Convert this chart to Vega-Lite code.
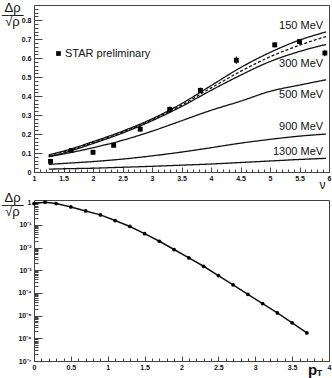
{
  "$schema": "https://vega.github.io/schema/vega-lite/v6.json",
  "padding": {"left": 0, "top": 0, "right": 0, "bottom": 0},
  "background": "white",
  "bounds": "flush",
  "spacing": 28,
  "config": {
    "view": {"stroke": "#444", "strokeWidth": 1},
    "font": "Liberation Sans",
    "axis": {
      "grid": false,
      "domain": false,
      "tickColor": "#444",
      "tickWidth": 1,
      "labelFont": "Liberation Sans",
      "labelFontSize": 7,
      "labelFontWeight": "bold",
      "labelColor": "#111",
      "labelOverlap": false,
      "labelFlush": false,
      "labelBound": false,
      "titleFont": "Liberation Sans",
      "titleColor": "#111",
      "titleFontWeight": "normal"
    }
  },
  "datasets": {
    "curves": [
      {"nu": 1.25, "v": 0.09, "curve": "150 MeV"}, {"nu": 1.5, "v": 0.11, "curve": "150 MeV"}, {"nu": 2, "v": 0.16, "curve": "150 MeV"}, {"nu": 2.5, "v": 0.215, "curve": "150 MeV"}, {"nu": 3, "v": 0.28, "curve": "150 MeV"}, {"nu": 3.5, "v": 0.36, "curve": "150 MeV"}, {"nu": 4, "v": 0.455, "curve": "150 MeV"}, {"nu": 4.5, "v": 0.55, "curve": "150 MeV"}, {"nu": 5, "v": 0.63, "curve": "150 MeV"}, {"nu": 5.5, "v": 0.695, "curve": "150 MeV"}, {"nu": 5.95, "v": 0.738, "curve": "150 MeV"},
      {"nu": 1.25, "v": 0.086, "curve": "intermediate"}, {"nu": 1.5, "v": 0.106, "curve": "intermediate"}, {"nu": 2, "v": 0.155, "curve": "intermediate"}, {"nu": 2.5, "v": 0.21, "curve": "intermediate"}, {"nu": 3, "v": 0.275, "curve": "intermediate"}, {"nu": 3.5, "v": 0.352, "curve": "intermediate"}, {"nu": 4, "v": 0.443, "curve": "intermediate"}, {"nu": 4.5, "v": 0.53, "curve": "intermediate"}, {"nu": 5, "v": 0.607, "curve": "intermediate"}, {"nu": 5.5, "v": 0.668, "curve": "intermediate"}, {"nu": 5.95, "v": 0.714, "curve": "intermediate"},
      {"nu": 1.25, "v": 0.08, "curve": "300 MeV"}, {"nu": 1.5, "v": 0.1, "curve": "300 MeV"}, {"nu": 2, "v": 0.15, "curve": "300 MeV"}, {"nu": 2.5, "v": 0.205, "curve": "300 MeV"}, {"nu": 3, "v": 0.27, "curve": "300 MeV"}, {"nu": 3.5, "v": 0.345, "curve": "300 MeV"}, {"nu": 4, "v": 0.43, "curve": "300 MeV"}, {"nu": 4.5, "v": 0.51, "curve": "300 MeV"}, {"nu": 5, "v": 0.582, "curve": "300 MeV"}, {"nu": 5.5, "v": 0.635, "curve": "300 MeV"}, {"nu": 5.95, "v": 0.672, "curve": "300 MeV"},
      {"nu": 1.25, "v": 0.082, "curve": "500 MeV"}, {"nu": 1.5, "v": 0.095, "curve": "500 MeV"}, {"nu": 2, "v": 0.128, "curve": "500 MeV"}, {"nu": 2.5, "v": 0.167, "curve": "500 MeV"}, {"nu": 3, "v": 0.215, "curve": "500 MeV"}, {"nu": 3.5, "v": 0.27, "curve": "500 MeV"}, {"nu": 4, "v": 0.325, "curve": "500 MeV"}, {"nu": 4.5, "v": 0.373, "curve": "500 MeV"}, {"nu": 5, "v": 0.425, "curve": "500 MeV"}, {"nu": 5.5, "v": 0.458, "curve": "500 MeV"}, {"nu": 5.95, "v": 0.486, "curve": "500 MeV"},
      {"nu": 1.25, "v": 0.04, "curve": "900 MeV"}, {"nu": 1.5, "v": 0.045, "curve": "900 MeV"}, {"nu": 2, "v": 0.055, "curve": "900 MeV"}, {"nu": 2.5, "v": 0.068, "curve": "900 MeV"}, {"nu": 3, "v": 0.085, "curve": "900 MeV"}, {"nu": 3.5, "v": 0.105, "curve": "900 MeV"}, {"nu": 4, "v": 0.128, "curve": "900 MeV"}, {"nu": 4.5, "v": 0.152, "curve": "900 MeV"}, {"nu": 5, "v": 0.172, "curve": "900 MeV"}, {"nu": 5.5, "v": 0.189, "curve": "900 MeV"}, {"nu": 5.95, "v": 0.2, "curve": "900 MeV"},
      {"nu": 1.25, "v": 0.015, "curve": "1300 MeV"}, {"nu": 1.5, "v": 0.017, "curve": "1300 MeV"}, {"nu": 2, "v": 0.02, "curve": "1300 MeV"}, {"nu": 2.5, "v": 0.025, "curve": "1300 MeV"}, {"nu": 3, "v": 0.03, "curve": "1300 MeV"}, {"nu": 3.5, "v": 0.036, "curve": "1300 MeV"}, {"nu": 4, "v": 0.042, "curve": "1300 MeV"}, {"nu": 4.5, "v": 0.05, "curve": "1300 MeV"}, {"nu": 5, "v": 0.058, "curve": "1300 MeV"}, {"nu": 5.5, "v": 0.066, "curve": "1300 MeV"}, {"nu": 5.95, "v": 0.072, "curve": "1300 MeV"}
    ],
    "star": [
      {"nu": 1.28, "v": 0.056, "lo": 0.044, "hi": 0.068, "series": "STAR preliminary"},
      {"nu": 1.63, "v": 0.113, "lo": 0.101, "hi": 0.125, "series": "STAR preliminary"},
      {"nu": 2.0, "v": 0.104, "lo": 0.092, "hi": 0.116, "series": "STAR preliminary"},
      {"nu": 2.35, "v": 0.141, "lo": 0.128, "hi": 0.154, "series": "STAR preliminary"},
      {"nu": 2.8, "v": 0.226, "lo": 0.213, "hi": 0.239, "series": "STAR preliminary"},
      {"nu": 3.3, "v": 0.33, "lo": 0.315, "hi": 0.345, "series": "STAR preliminary"},
      {"nu": 3.82, "v": 0.43, "lo": 0.415, "hi": 0.445, "series": "STAR preliminary"},
      {"nu": 4.43, "v": 0.589, "lo": 0.569, "hi": 0.609, "series": "STAR preliminary"},
      {"nu": 5.08, "v": 0.67, "lo": 0.656, "hi": 0.684, "series": "STAR preliminary"},
      {"nu": 5.5, "v": 0.687, "lo": 0.673, "hi": 0.701, "series": "STAR preliminary"},
      {"nu": 5.93, "v": 0.627, "lo": 0.61, "hi": 0.644, "series": "STAR preliminary"}
    ],
    "labels": [
      {"nu": 5.9, "v": 0.768, "curve": "150 MeV"},
      {"nu": 5.9, "v": 0.57, "curve": "300 MeV"},
      {"nu": 5.9, "v": 0.404, "curve": "500 MeV"},
      {"nu": 5.9, "v": 0.237, "curve": "900 MeV"},
      {"nu": 5.9, "v": 0.107, "curve": "1300 MeV"}
    ],
    "pt": [
      {"pt": 0, "v": 0.87}, {"pt": 0.15, "v": 1.0}, {"pt": 0.3, "v": 0.87}, {"pt": 0.5, "v": 0.62},
      {"pt": 0.7, "v": 0.41}, {"pt": 0.9, "v": 0.276}, {"pt": 1.1, "v": 0.155}, {"pt": 1.3, "v": 0.085},
      {"pt": 1.5, "v": 0.041}, {"pt": 1.7, "v": 0.019}, {"pt": 1.9, "v": 0.0082}, {"pt": 2.1, "v": 0.0035},
      {"pt": 2.3, "v": 0.0015}, {"pt": 2.5, "v": 0.00058}, {"pt": 2.7, "v": 0.000225}, {"pt": 2.9, "v": 0.000087},
      {"pt": 3.1, "v": 0.000034}, {"pt": 3.3, "v": 0.0000131}, {"pt": 3.5, "v": 0.0000048}, {"pt": 3.7, "v": 0.00000173}
    ],
    "sub": [
      {"pt": 3.82, "v": 1e-7, "text": "T"}
    ]
  },
  "vconcat": [
    {
      "width": 295,
      "height": 167,
      "resolve": {"axis": {"x": "independent", "y": "independent"}},
      "layer": [
        {
          "data": {"name": "curves"},
          "mark": {"type": "line", "strokeWidth": 1.3, "color": "#111", "interpolate": "monotone"},
          "encoding": {
            "x": {
              "field": "nu", "type": "quantitative",
              "scale": {"domain": [1, 6], "nice": false, "zero": false},
              "axis": {
                "orient": "bottom",
                "values": [1, 1.5, 2, 2.5, 3, 3.5, 4, 4.5, 5, 5.5, 6],
                "format": "~g",
                "ticks": false,
                "labelPadding": 2,
                "title": "ν",
                "titleFontSize": 12,
                "titleX": 288,
                "titleY": 12,
                "titleBaseline": "middle",
                "titleAlign": "center"
              }
            },
            "y": {
              "field": "v", "type": "quantitative",
              "scale": {"domain": [0, 0.88], "nice": false},
              "axis": {
                "orient": "left",
                "values": [0, 0.1, 0.2, 0.3, 0.4, 0.5, 0.6, 0.7, 0.8],
                "format": "~g",
                "ticks": false,
                "labelPadding": 3,
                "title": ["Δρ", "–––", "√ρ̅"],
                "titleAngle": 0,
                "titleFontSize": 13,
                "titleLineHeight": 7,
                "titleX": -22,
                "titleY": -4,
                "titleAlign": "center",
                "titleBaseline": "top"
              }
            },
            "detail": {"field": "curve"},
            "strokeDash": {
              "field": "curve", "type": "nominal",
              "scale": {"domain": ["150 MeV", "intermediate", "300 MeV", "500 MeV", "900 MeV", "1300 MeV"], "range": [[1, 0], [3, 2], [1, 0], [1, 0], [1, 0], [1, 0]]},
              "legend": null
            }
          }
        },
        {
          "data": {"name": "star"},
          "mark": {"type": "rule", "color": "#111", "strokeWidth": 1},
          "encoding": {
            "x": {
              "field": "nu", "type": "quantitative",
              "axis": {"orient": "bottom", "values": [1, 1.5, 2, 2.5, 3, 3.5, 4, 4.5, 5, 5.5, 6], "labels": false, "tickSize": -5, "title": null}
            },
            "y": {
              "field": "lo", "type": "quantitative",
              "axis": {"orient": "left", "values": [0, 0.1, 0.2, 0.3, 0.4, 0.5, 0.6, 0.7, 0.8], "labels": false, "tickSize": -8, "title": null}
            },
            "y2": {"field": "hi"}
          }
        },
        {
          "data": {"name": "star"},
          "mark": {"type": "point", "filled": true, "size": 24, "opacity": 1},
          "encoding": {
            "x": {
              "field": "nu", "type": "quantitative",
              "axis": {"orient": "bottom", "values": [1,1.1,1.2,1.3,1.4,1.5,1.6,1.7,1.8,1.9,2,2.1,2.2,2.3,2.4,2.5,2.6,2.7,2.8,2.9,3,3.1,3.2,3.3,3.4,3.5,3.6,3.7,3.8,3.9,4,4.1,4.2,4.3,4.4,4.5,4.6,4.7,4.8,4.9,5,5.1,5.2,5.3,5.4,5.5,5.6,5.7,5.8,5.9,6], "labels": false, "tickSize": -3, "title": null}
            },
            "y": {
              "field": "v", "type": "quantitative",
              "axis": {"orient": "left", "values": [0,0.02,0.04,0.06,0.08,0.1,0.12,0.14,0.16,0.18,0.2,0.22,0.24,0.26,0.28,0.3,0.32,0.34,0.36,0.38,0.4,0.42,0.44,0.46,0.48,0.5,0.52,0.54,0.56,0.58,0.6,0.62,0.64,0.66,0.68,0.7,0.72,0.74,0.76,0.78,0.8,0.82,0.84,0.86], "labels": false, "tickSize": -4, "title": null}
            },
            "shape": {
              "field": "series", "type": "nominal",
              "scale": {"range": ["square"]},
              "legend": {"orient": "none", "legendX": 19, "legendY": 43, "title": null, "labelFontSize": 11, "labelFont": "Liberation Sans", "labelColor": "#111", "symbolSize": 22, "labelOffset": 1, "padding": 0}
            },
            "color": {
              "field": "series", "type": "nominal",
              "scale": {"range": ["#000000"]},
              "legend": {"orient": "none", "legendX": 19, "legendY": 43, "title": null, "labelFontSize": 11, "labelFont": "Liberation Sans", "labelColor": "#111", "symbolSize": 22, "labelOffset": 1, "padding": 0}
            }
          }
        },
        {
          "data": {"name": "labels"},
          "mark": {"type": "text", "align": "right", "baseline": "middle", "fontSize": 11, "font": "Liberation Sans", "color": "#111"},
          "encoding": {
            "x": {"field": "nu", "type": "quantitative", "axis": null},
            "y": {"field": "v", "type": "quantitative", "axis": null},
            "text": {"field": "curve"}
          }
        }
      ]
    },
    {
      "width": 295,
      "height": 161,
      "resolve": {"axis": {"x": "independent", "y": "independent"}},
      "layer": [
        {
          "data": {"name": "pt"},
          "mark": {"type": "line", "strokeWidth": 1.5, "color": "#111"},
          "encoding": {
            "x": {
              "field": "pt", "type": "quantitative",
              "scale": {"domain": [0, 4], "nice": false},
              "axis": {
                "orient": "bottom",
                "values": [0, 0.5, 1, 1.5, 2, 2.5, 3, 3.5, 4],
                "format": "~g",
                "ticks": false,
                "labelPadding": 2,
                "title": "p",
                "titleFontSize": 15,
                "titleFontWeight": "bold",
                "titleX": 278,
                "titleY": 8,
                "titleBaseline": "middle",
                "titleAlign": "center"
              }
            },
            "y": {
              "field": "v", "type": "quantitative",
              "scale": {"type": "log", "domain": [1e-7, 1.25], "nice": false},
              "axis": {
                "orient": "left",
                "values": [1e-7, 1e-6, 1e-5, 1e-4, 1e-3, 1e-2, 1e-1, 1],
                "labelExpr": "datum.value > 0.5 ? '1' : '10⁻' + ['','¹','²','³','⁴','⁵','⁶','⁷'][round(-log(datum.value)/LN10)]",
                "ticks": false,
                "labelPadding": 3,
                "title": ["Δρ", "–––", "√ρ̅"],
                "titleAngle": 0,
                "titleFontSize": 13,
                "titleLineHeight": 7,
                "titleX": -22,
                "titleY": -9,
                "titleAlign": "center",
                "titleBaseline": "top"
              }
            }
          }
        },
        {
          "data": {"name": "pt"},
          "mark": {"type": "point", "filled": true, "size": 14, "opacity": 1, "color": "#000"},
          "encoding": {
            "x": {
              "field": "pt", "type": "quantitative",
              "axis": {"orient": "bottom", "values": [0, 0.5, 1, 1.5, 2, 2.5, 3, 3.5, 4], "labels": false, "tickSize": -5, "title": null}
            },
            "y": {
              "field": "v", "type": "quantitative",
              "axis": {"orient": "left", "values": [1e-7, 1e-6, 1e-5, 1e-4, 1e-3, 1e-2, 1e-1, 1], "labels": false, "tickSize": -8, "title": null}
            }
          }
        },
        {
          "data": {"name": "sub"},
          "mark": {"type": "text", "fontSize": 9, "fontWeight": "bold", "font": "Liberation Sans", "color": "#111", "dy": 15, "dx": 1, "align": "left", "baseline": "alphabetic"},
          "encoding": {
            "x": {
              "field": "pt", "type": "quantitative",
              "axis": {"orient": "bottom", "values": [0,0.1,0.2,0.3,0.4,0.5,0.6,0.7,0.8,0.9,1,1.1,1.2,1.3,1.4,1.5,1.6,1.7,1.8,1.9,2,2.1,2.2,2.3,2.4,2.5,2.6,2.7,2.8,2.9,3,3.1,3.2,3.3,3.4,3.5,3.6,3.7,3.8,3.9,4], "labels": false, "tickSize": -3, "title": null}
            },
            "y": {
              "field": "v", "type": "quantitative",
              "axis": {"orient": "left", "values": [2e-7,3e-7,4e-7,5e-7,6e-7,7e-7,8e-7,9e-7,2e-6,3e-6,4e-6,5e-6,6e-6,7e-6,8e-6,9e-6,2e-5,3e-5,4e-5,5e-5,6e-5,7e-5,8e-5,9e-5,2e-4,3e-4,4e-4,5e-4,6e-4,7e-4,8e-4,9e-4,2e-3,3e-3,4e-3,5e-3,6e-3,7e-3,8e-3,9e-3,0.02,0.03,0.04,0.05,0.06,0.07,0.08,0.09,0.2,0.3,0.4,0.5,0.6,0.7,0.8,0.9], "labels": false, "tickSize": -4, "title": null}
            },
            "text": {"field": "text"}
          }
        }
      ]
    }
  ]
}
